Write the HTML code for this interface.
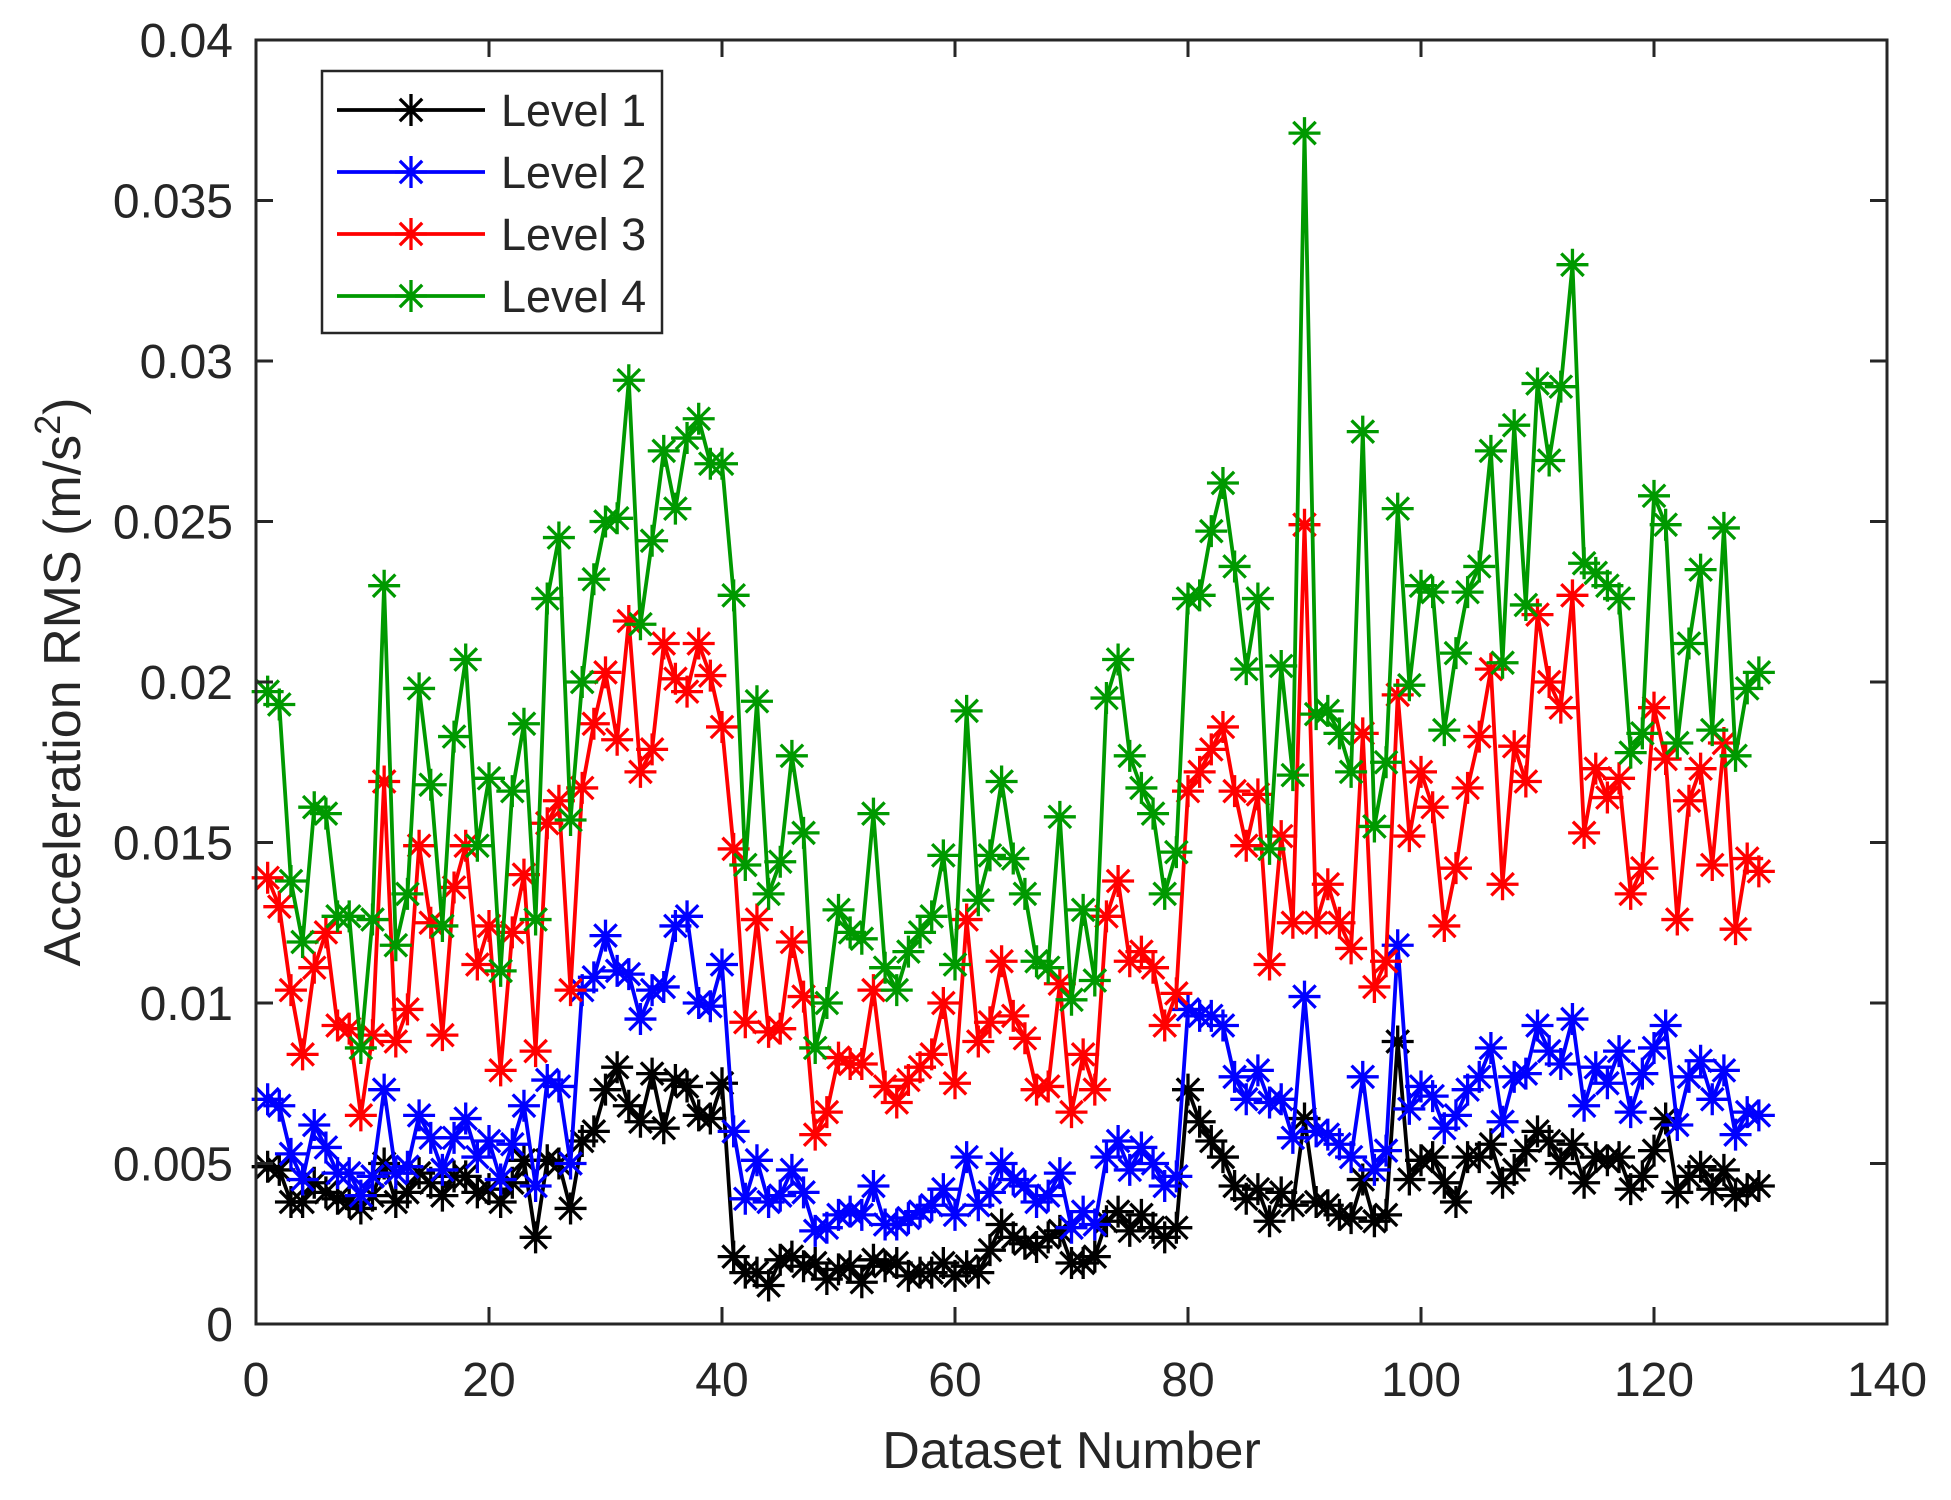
<!DOCTYPE html>
<html><head><meta charset="utf-8"><style>
html,body{margin:0;padding:0;background:#fff;}
svg text{font-family:"Liberation Sans",Arial,sans-serif;fill:#262626;}
</style></head><body>
<svg id="chart" width="1951" height="1495" viewBox="0 0 1951 1495" xmlns="http://www.w3.org/2000/svg">
<rect width="1951" height="1495" fill="#fff"/>
<g id="series"></g>
<g id="axes"></g>
<g id="legend"></g>
</svg>
<script>
const xTicks=[0,20,40,60,80,100,120,140];
const yTicks=[0,0.005,0.01,0.015,0.02,0.025,0.03,0.035,0.04];
const yTickLabels=["0","0.005","0.01","0.015","0.02","0.025","0.03","0.035","0.04"];
const seriesNames=["Level 1","Level 2","Level 3","Level 4"];
const level1=[0.0049,0.0048,0.0038,0.0038,0.0044,0.0041,0.0039,0.0038,0.0036,0.0040,0.0050,0.0038,0.0041,0.0047,0.0044,0.0040,0.0046,0.0046,0.0041,0.0042,0.0038,0.0044,0.0051,0.0027,0.0051,0.0050,0.0036,0.0057,0.0060,0.0073,0.0080,0.0068,0.0063,0.0078,0.0061,0.0076,0.0074,0.0065,0.0064,0.0075,0.0021,0.0016,0.0016,0.0012,0.0020,0.0021,0.0018,0.0019,0.0014,0.0017,0.0018,0.0013,0.0020,0.0018,0.0019,0.0015,0.0016,0.0016,0.0019,0.0015,0.0018,0.0016,0.0023,0.0031,0.0027,0.0025,0.0024,0.0027,0.0029,0.0019,0.0019,0.0021,0.0032,0.0035,0.0029,0.0034,0.0030,0.0027,0.0030,0.0073,0.0063,0.0057,0.0052,0.0043,0.0039,0.0042,0.0032,0.0041,0.0037,0.0064,0.0038,0.0037,0.0034,0.0033,0.0045,0.0032,0.0034,0.0088,0.0045,0.0051,0.0052,0.0044,0.0038,0.0052,0.0052,0.0056,0.0044,0.0048,0.0054,0.0060,0.0057,0.0050,0.0056,0.0044,0.0052,0.0051,0.0052,0.0042,0.0046,0.0054,0.0064,0.0041,0.0046,0.0049,0.0042,0.0048,0.0040,0.0042,0.0043];
const level2=[0.0070,0.0068,0.0053,0.0045,0.0062,0.0055,0.0047,0.0047,0.0040,0.0046,0.0073,0.0047,0.0049,0.0065,0.0058,0.0048,0.0058,0.0064,0.0052,0.0057,0.0045,0.0056,0.0068,0.0043,0.0076,0.0074,0.0050,0.0104,0.0108,0.0121,0.0110,0.0109,0.0095,0.0104,0.0105,0.0124,0.0127,0.0100,0.0099,0.0112,0.0060,0.0039,0.0051,0.0038,0.0040,0.0048,0.0041,0.0029,0.0030,0.0034,0.0035,0.0034,0.0043,0.0031,0.0031,0.0033,0.0035,0.0037,0.0042,0.0034,0.0052,0.0037,0.0041,0.0050,0.0045,0.0043,0.0038,0.0040,0.0047,0.0030,0.0035,0.0031,0.0052,0.0057,0.0048,0.0055,0.0050,0.0043,0.0046,0.0098,0.0096,0.0096,0.0093,0.0077,0.0070,0.0079,0.0069,0.0070,0.0058,0.0102,0.0060,0.0059,0.0056,0.0052,0.0077,0.0048,0.0054,0.0118,0.0067,0.0074,0.0071,0.0061,0.0065,0.0073,0.0077,0.0086,0.0063,0.0077,0.0078,0.0093,0.0085,0.0081,0.0095,0.0068,0.0080,0.0075,0.0085,0.0066,0.0078,0.0086,0.0093,0.0062,0.0077,0.0082,0.0070,0.0079,0.0059,0.0066,0.0065];
const level3=[0.0139,0.0130,0.0104,0.0084,0.0111,0.0122,0.0093,0.0092,0.0065,0.0090,0.0169,0.0088,0.0098,0.0149,0.0125,0.0090,0.0136,0.0149,0.0112,0.0124,0.0079,0.0122,0.0140,0.0085,0.0156,0.0163,0.0104,0.0167,0.0187,0.0203,0.0182,0.0219,0.0172,0.0179,0.0212,0.0201,0.0197,0.0212,0.0202,0.0186,0.0148,0.0094,0.0126,0.0091,0.0092,0.0119,0.0102,0.0059,0.0066,0.0083,0.0081,0.0081,0.0104,0.0074,0.0069,0.0076,0.0080,0.0084,0.0100,0.0075,0.0126,0.0088,0.0094,0.0113,0.0096,0.0089,0.0073,0.0074,0.0106,0.0066,0.0084,0.0073,0.0127,0.0138,0.0113,0.0116,0.0111,0.0093,0.0103,0.0166,0.0172,0.0179,0.0186,0.0166,0.0149,0.0165,0.0112,0.0152,0.0125,0.0249,0.0125,0.0137,0.0125,0.0117,0.0184,0.0105,0.0113,0.0196,0.0152,0.0172,0.0161,0.0124,0.0142,0.0167,0.0183,0.0204,0.0137,0.0180,0.0169,0.0221,0.0200,0.0192,0.0227,0.0153,0.0173,0.0164,0.0170,0.0134,0.0142,0.0192,0.0176,0.0126,0.0163,0.0173,0.0143,0.0181,0.0123,0.0145,0.0141];
const level4=[0.0197,0.0193,0.0138,0.0119,0.0161,0.0159,0.0127,0.0127,0.0086,0.0126,0.0230,0.0118,0.0134,0.0198,0.0168,0.0124,0.0183,0.0207,0.0149,0.0170,0.0110,0.0166,0.0187,0.0126,0.0226,0.0245,0.0157,0.0200,0.0232,0.0250,0.0251,0.0294,0.0218,0.0244,0.0272,0.0254,0.0276,0.0282,0.0268,0.0268,0.0227,0.0143,0.0194,0.0134,0.0144,0.0177,0.0153,0.0086,0.0100,0.0129,0.0122,0.0120,0.0159,0.0111,0.0104,0.0116,0.0122,0.0127,0.0146,0.0112,0.0191,0.0132,0.0146,0.0169,0.0145,0.0134,0.0113,0.0111,0.0158,0.0101,0.0129,0.0107,0.0195,0.0207,0.0177,0.0167,0.0159,0.0134,0.0147,0.0226,0.0227,0.0247,0.0262,0.0236,0.0204,0.0226,0.0148,0.0205,0.0171,0.0371,0.0190,0.0191,0.0184,0.0172,0.0278,0.0155,0.0175,0.0254,0.0199,0.0230,0.0228,0.0185,0.0209,0.0228,0.0236,0.0272,0.0206,0.0280,0.0224,0.0293,0.0269,0.0292,0.0330,0.0237,0.0234,0.0230,0.0226,0.0178,0.0184,0.0258,0.0249,0.0181,0.0212,0.0235,0.0185,0.0248,0.0177,0.0198,0.0203];

const NS="http://www.w3.org/2000/svg";
const L=256,R=1887,T=40,B=1324;
const xMin=0,xMax=140,yMin=0,yMax=0.04;
function xs(v){return L+(v-xMin)/(xMax-xMin)*(R-L);}
function ys(v){return B-(v-yMin)/(yMax-yMin)*(B-T);}
function mk(tag,attrs,parent){const e=document.createElementNS(NS,tag);for(const k in attrs)e.setAttribute(k,attrs[k]);parent.appendChild(e);return e;}
function star(g,cx,cy,color,r){
  const d=`M${cx-r},${cy}H${cx+r}M${cx},${cy-r}V${cy+r}M${cx-r*0.7},${cy-r*0.7}L${cx+r*0.7},${cy+r*0.7}M${cx-r*0.7},${cy+r*0.7}L${cx+r*0.7},${cy-r*0.7}`;
  return mk('path',{d:d,stroke:color,'stroke-width':3.3,fill:'none'},g);
}
const colors=["#000000","#0000ff","#ff0000","#009900"];
const data=[level1,level2,level3,level4];
const sg=document.getElementById('series');
data.forEach((arr,si)=>{
  const g=mk('g',{},sg);
  
  
  const pts=arr.map((v,i)=>xs(i+1).toFixed(1)+','+ys(v).toFixed(1)).join(' ');
  const pl=mk('polyline',{points:pts,fill:'none',stroke:colors[si],'stroke-width':3.8,'stroke-linejoin':'round'},g);
  
  
  arr.forEach((v,i)=>{
    const p=star(g,xs(i+1),ys(v),colors[si],16);
    
    
  });
});
const ag=document.getElementById('axes');
const frame=mk('rect',{x:L,y:T,width:R-L,height:B-T,fill:'none',stroke:'#262626','stroke-width':3},ag);


xTicks.forEach(t=>{
  const x=xs(t);
  mk('line',{x1:x,y1:B,x2:x,y2:B-17,stroke:'#262626','stroke-width':3},ag);
  mk('line',{x1:x,y1:T,x2:x,y2:T+17,stroke:'#262626','stroke-width':3},ag);
  const tx=mk('text',{x:x,y:1396,'font-size':48,'text-anchor':'middle'},ag);
  tx.textContent=String(t);
  
  
});
yTicks.forEach((t,i)=>{
  const y=ys(t);
  mk('line',{x1:L,y1:y,x2:L+17,y2:y,stroke:'#262626','stroke-width':3},ag);
  mk('line',{x1:R,y1:y,x2:R-17,y2:y,stroke:'#262626','stroke-width':3},ag);
  const tx=mk('text',{x:233,y:y+17,'font-size':48,'text-anchor':'end'},ag);
  tx.textContent=yTickLabels[i];
  
  
});
const xt=mk('text',{x:(L+R)/2,y:1468,'font-size':52,'text-anchor':'middle'},ag);
xt.textContent='Dataset Number';


const yt=mk('text',{x:0,y:0,'font-size':52,'text-anchor':'middle',transform:`translate(80,${(T+B)/2}) rotate(-90)`},ag);
yt.innerHTML='Acceleration RMS (m/s<tspan dy="-20" font-size="36">2</tspan><tspan dy="20">)</tspan>';


const lg=document.getElementById('legend');


mk('rect',{x:322,y:71,width:340,height:262,fill:'#fff',stroke:'#262626','stroke-width':2.5},lg);
seriesNames.forEach((n,i)=>{
  const y=110+i*62;
  const e=mk('g',{},lg);
  
  
  mk('line',{x1:337,y1:y,x2:485,y2:y,stroke:colors[i],'stroke-width':3.8},e);
  star(e,411,y,colors[i],16);
  const t=mk('text',{x:501,y:y+16,'font-size':45},e);
  t.textContent=n;
});
</script>
</body></html>
